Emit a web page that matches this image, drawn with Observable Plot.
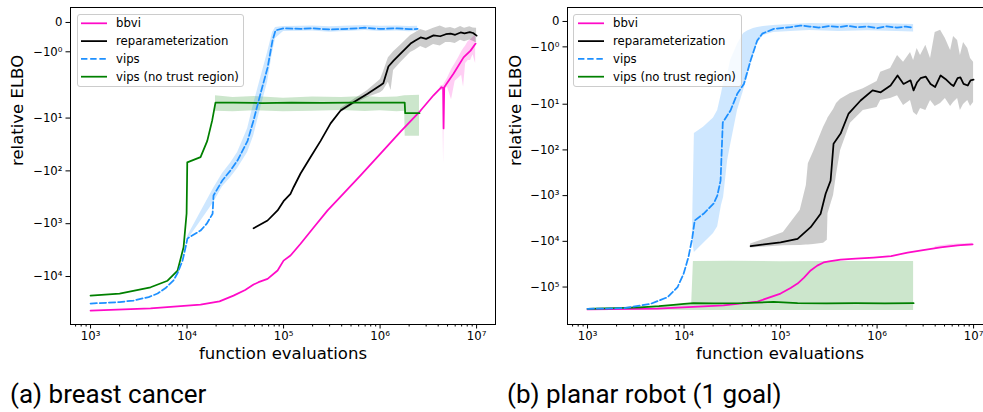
<!DOCTYPE html>
<html>
<head>
<meta charset="utf-8">
<script src="https://cdn.jsdelivr.net/npm/d3@7"></script>
<script src="https://cdn.jsdelivr.net/npm/@observablehq/plot@0.6"></script>
<style>
  html, body { margin: 0; padding: 0; background: #fff; }
  #fig { position: relative; width: 983px; height: 412px; overflow: hidden; font-family: "DejaVu Sans", sans-serif; }
  .panel { position: absolute; top: 0; }
  .panel svg { max-width: none !important; }
  .legend { position: absolute; box-sizing: border-box; height: 73px; border: 1px solid #cccccc; border-radius: 3px;
            background: rgba(255,255,255,0.8); font-size: 11.7px; color: #000; }
  .legend svg { position: absolute; left: 0; top: 0; }
  .legend span { position: absolute; height: 16px; line-height: 16px; white-space: nowrap; }
  .caption { position: absolute; top: 379px; font-family: Roboto, sans-serif; font-size: 26px; line-height: 30px;
             color: #000; white-space: nowrap; }
</style>
</head>
<body>
<div id="fig"></div>
<script>
// ---- shared axis definitions ----
const xDomain = [620, 1.57e7];
const xTickValues = [1e3, 1e4, 1e5, 1e6, 1e7];
const xTickLabels = ["10³", "10⁴", "10⁵", "10⁶", "10⁷"];
const yTickValues = [0, -1, -10, -100, -1000, -10000, -100000];
const yTickLabels = ["0", "−10⁰", "−10¹", "−10²", "−10³", "−10⁴", "−10⁵"];

const seriesNames = ["bbvi", "reparameterization", "vips", "vips (no trust region)"];
const seriesColors = ["#ff0ac8", "#000000", "#1e90ff", "#008000"];
const seriesDash = [null, null, "6.4,2.8", null];

// ---- (a) breast cancer ----
const bcDomainY = [-81000, 0.51];
const bcBbviX = [1e3, 4190, 13800, 21700, 30300, 40000, 48900, 55000, 68300, 86700, 1e5, 1.18e5, 1.5e5, 2.05e5, 2.86e5, 3.9e5, 6.28e5, 1.01e6, 1.63e6, 2.63e6, 3.58e6, 4.33e6, 4.5e6, 4.55e6, 4.62e6, 4.77e6, 5.78e6, 7.33e6, 8.66e6, 9.77e6];
const bcBbviY = [-44000, -40000, -34000, -29500, -23000, -18000, -14200, -12800, -11100, -7700, -5000, -4000, -2400, -1180, -560, -308, -122, -47, -18, -7.2, -3.7, -2.6, -2.7, -15.7, -2.6, -2.4, -1.74, -1.19, -0.96, -0.72];
const bcBbviBandX = [4.2e6, 4.45e6, 4.55e6, 4.65e6, 5e6, 5.5e6, 6e6, 6.5e6, 7e6, 7.33e6, 7.7e6, 8.2e6, 8.66e6, 9.2e6, 9.77e6];
const bcBbviLo = [-3.0, -3.0, -75, -2.9, -2.6, -4.5, -2.0, -1.9, -1.8, -2.6, -1.4, -1.3, -1.3, -1.1, -1.4];
const bcBbviHi = [-2.5, -2.4, -2.4, -2.2, -1.9, -1.6, -1.4, -1.2, -1.0, -0.9, -0.8, -0.65, -0.6, -0.5, -0.45];

const bcRepX = [48900, 68300, 86700, 1e5, 1.18e5, 1.27e5, 1.5e5, 1.9e5, 2.42e5, 3.07e5, 3.9e5, 5.31e5, 7.42e5, 1.01e6, 1.08e6, 1.22e6, 1.38e6, 1.63e6, 2.07e6, 2.3e6, 2.63e6, 3e6, 3.58e6, 4.2e6, 4.8e6, 5.38e6, 6e6, 6.83e6, 7.5e6, 8.5e6, 9.2e6, 1e7];
const bcRepY = [-1220, -870, -560, -375, -272, -204, -112, -55, -27, -12.6, -7.2, -5.0, -3.47, -2.4, -2.2, -1.5, -1.3, -1.06, -0.72, -0.62, -0.51, -0.56, -0.44, -0.47, -0.4, -0.38, -0.42, -0.34, -0.37, -0.33, -0.36, -0.45];
const bcRepBandX = [3.9e5, 5.31e5, 7.42e5, 1.01e6, 1.08e6, 1.22e6, 1.3e6, 1.38e6, 1.63e6, 2.07e6, 2.3e6, 2.63e6, 3e6, 3.58e6, 4.2e6, 4.8e6, 5.38e6, 6e6, 6.83e6, 7.5e6, 8.5e6, 9.2e6, 1e7];
const bcRepLo = [-7.9, -5.6, -4.1, -3.3, -3.0, -2.1, -3.0, -1.64, -1.37, -1.02, -0.95, -0.82, -0.9, -0.75, -0.8, -0.68, -0.68, -0.72, -0.61, -0.66, -0.6, -0.64, -0.7];
const bcRepHi = [-6.6, -4.5, -3.0, -1.94, -1.7, -1.2, -1.1, -1.0, -0.78, -0.44, -0.36, -0.24, -0.3, -0.2, -0.12, -0.2, -0.17, -0.22, -0.14, -0.2, -0.15, -0.19, -0.2];

const bcVipsX = [1000, 2000, 2790, 4000, 4950, 6000, 7250, 8000, 8980, 9650, 10100, 13800, 16000, 18400, 18800, 23300, 28200, 33400, 42400, 48900, 57800, 68300, 76900, 82600, 1e5, 1.5e5, 2e5, 3e5, 5e5, 7e5, 1e6, 1.5e6, 2e6, 2.45e6];
const bcVipsY = [-32500, -30500, -28500, -24500, -21000, -16500, -11800, -8500, -5000, -2800, -1900, -1350, -1000, -650, -293, -150, -98, -63, -27, -11, -3.4, -1.54, -0.61, -0.27, -0.2, -0.22, -0.2, -0.24, -0.21, -0.18, -0.22, -0.2, -0.23, -0.22];
const bcVipsBandX = [10100, 18800, 23300, 28200, 33400, 42400, 48900, 57800, 68300, 76900, 82600, 1e5, 1.5e5, 2e5, 3e5, 5e5, 7e5, 1e6, 1.5e6, 2e6, 2.45e6];
const bcVipsLo = [-2050, -400, -200, -135, -90, -45, -22, -6.6, -2.1, -1.02, -0.55, -0.31, -0.3, -0.29, -0.33, -0.3, -0.27, -0.31, -0.29, -0.32, -0.3];
const bcVipsHi = [-1750, -215, -112, -72, -45, -16, -5.5, -1.9, -1.02, -0.34, -0.17, -0.14, -0.13, -0.12, -0.15, -0.12, -0.1, -0.13, -0.12, -0.14, -0.13];

const bcNoTrX = [1000, 2000, 4190, 6280, 7980, 9200, 9890, 10000, 10050, 13800, 16200, 18200, 19700, 30000, 60000, 1.2e5, 2.5e5, 5e5, 1e6, 1.8e6, 1.82e6, 2.56e6];
const bcNoTrY = [-23000, -21000, -16000, -12000, -7700, -2800, -640, -150, -69, -55, -27, -11.2, -5.1, -5.1, -5.2, -5.1, -5.15, -5.1, -5.1, -5.1, -8.1, -8.1];
const bcNoTrBandX = [19700, 30000, 50000, 1e5, 2e5, 4e5, 7e5, 1e6, 1.5e6, 1.8e6, 1.82e6, 2.56e6];
const bcNoTrLo = [-7.4, -7.6, -7.3, -7.6, -7.4, -7.2, -7.5, -7.3, -7.6, -7.4, -22, -22];
const bcNoTrHi = [-3.8, -4.1, -3.9, -4.2, -4.0, -4.1, -3.9, -4.1, -4.0, -3.8, -3.8, -3.7];

// ---- (b) planar robot (1 goal) ----
const prDomainY = [-660000, 0.55];
const prBbviX = [1000, 5310, 25700, 57800, 1e5, 1.27e5, 1.5e5, 1.75e5, 2.05e5, 2.4e5, 2.79e5, 3.3e5, 4.19e5, 6e5, 9.2e5, 1.4e6, 2.07e6, 3e6, 4.55e6, 6.83e6, 8e6, 9.77e6];
const prBbviY = [-310000, -295000, -253000, -208000, -139000, -105000, -84000, -62000, -43400, -34000, -29000, -27000, -25000, -24000, -22600, -21000, -17600, -15500, -13600, -12300, -12000, -11700];
const prBbviBandX = [4e6, 6e6, 8e6, 9.77e6];
const prBbviLo = [-14600, -13300, -12800, -12400];
const prBbviHi = [-13000, -11600, -11300, -11000];

const prRepX = [48900, 1e5, 1.5e5, 2.05e5, 2.6e5, 2.93e5, 3.3e5, 3.54e5, 4.19e5, 5.07e5, 6.75e5, 8.98e5, 1.09e6, 1.38e6, 1.63e6, 1.88e6, 2.22e6, 2.39e6, 2.6e6, 2.82e6, 3.2e6, 3.58e6, 4.0e6, 4.55e6, 5.1e6, 5.78e6, 6.2e6, 6.83e6, 7.3e6, 7.87e6, 8.7e6, 9.3e6, 1e7];
const prRepY = [-12800, -10500, -8800, -4900, -2500, -910, -470, -73, -44, -16, -8.3, -5.0, -5.5, -3.9, -2.35, -3.6, -3.0, -5.0, -3.3, -2.7, -2.5, -3.6, -4.2, -2.35, -2.8, -3.6, -4.0, -2.7, -2.6, -3.6, -3.9, -3.0, -2.9];
const prRepBandX = [48900, 1.07e5, 1.6e5, 1.85e5, 1.94e5, 2.2e5, 2.79e5, 3.05e5, 3.1e5, 3.54e5, 3.8e5, 4.19e5, 5.3e5, 7.2e5, 1e6, 1.09e6, 1.38e6, 1.63e6, 1.88e6, 2.22e6, 2.39e6, 2.6e6, 2.82e6, 3.2e6, 3.58e6, 4.0e6, 4.55e6, 5.1e6, 5.78e6, 6.2e6, 6.83e6, 7.3e6, 7.87e6, 8.7e6, 9.3e6, 1e7];
const prRepLo = [-14000, -12500, -12300, -12000, -12000, -11800, -11000, -9500, -2500, -1000, -350, -103, -26, -13.7, -11.8, -8.3, -7.5, -6.5, -10.7, -8.3, -15.2, -17.6, -12.4, -13.7, -8.3, -11.2, -9.6, -7.5, -11.2, -9.2, -7.5, -13.7, -10.1, -8.3, -11.2, -9.2];
const prRepHi = [-11500, -6400, -2100, -600, -200, -110, -32, -22, -20, -13, -9.6, -7.8, -5.8, -4.6, -3.2, -2.0, -1.85, -1.34, -1.61, -1.22, -1.54, -1.06, -1.34, -0.94, -1.46, -0.43, -0.35, -0.67, -1.14, -0.59, -0.75, -1.34, -0.83, -1.06, -1.46, -1.61];

const prVipsX = [1000, 2360, 4500, 6740, 8570, 9880, 11100, 12200, 12900, 15900, 20200, 22100, 23900, 25200, 30300, 35600, 41700, 48900, 57300, 64600, 85100, 1.27e5, 1.6e5, 2e5, 2.5e5, 3.2e5, 4e5, 5e5, 6.3e5, 8e5, 1e6, 1.26e6, 1.6e6, 2e6, 2.39e6];
const prVipsY = [-300000, -290000, -233000, -167000, -100000, -51700, -22300, -8100, -3500, -2500, -1500, -1000, -470, -25, -13.7, -5.9, -3.6, -1.54, -0.75, -0.48, -0.29, -0.22, -0.16, -0.2, -0.24, -0.18, -0.22, -0.17, -0.23, -0.2, -0.26, -0.19, -0.24, -0.2, -0.25];
const prVipsBandX = [12200, 12800, 15900, 20200, 22300, 24400, 25700, 28300, 30300, 35800, 41400, 45500, 52400, 57800, 66300, 84500, 1.27e5, 2e5, 4e5, 8e5, 1.6e6, 2.39e6];
const prVipsLo = [-9500, -17600, -11200, -6700, -4800, -1650, -1080, -170, -80, -13.7, -5, -2.6, -1.3, -0.87, -0.55, -0.43, -0.4, -0.36, -0.4, -0.37, -0.4, -0.41];
const prVipsHi = [-7000, -44, -32, -20, -13.7, -6, -3.5, -2.2, -1.54, -0.9, -0.47, -0.38, -0.28, -0.24, -0.2, -0.16, -0.12, -0.08, -0.1, -0.07, -0.1, -0.12];

const prNoTrX = [1000, 2000, 3540, 5500, 7780, 10000, 12500, 20000, 40000, 84500, 1.5e5, 3e5, 6e5, 1.2e6, 2.39e6];
const prNoTrY = [-300000, -290000, -277000, -262000, -245000, -233000, -226000, -227000, -226000, -212000, -224000, -227000, -226000, -227000, -226000];
const prNoTrBandX = [1000, 5000, 12000, 12500, 30000, 1e5, 3e5, 1e6, 2.39e6];
const prNoTrLo = [-320000, -322000, -325000, -326000, -325000, -327000, -325000, -326000, -326000];
const prNoTrHi = [-295000, -265000, -236000, -27600, -27400, -27800, -27500, -27700, -27600];

// ---- symmetric log transform (linear within ±2, log beyond) ----
const linthresh = 2;
const linscaleAdj = 1 / (1 - 1 / 10);
function symlog(v) {
  const a = Math.abs(v);
  if (a <= linthresh) return (v / linthresh) * linscaleAdj;
  return Math.sign(v) * (linscaleAdj + Math.log10(a / linthresh));
}

const rows = (xs, ys) => xs.map((x, i) => ({x, y: ys[i]}));
const bandRows = (xs, lo, hi) => xs.map((x, i) => ({x, lo: lo[i], hi: hi[i]}));
const nearestLabel = (values, labels) => t => {
  let best = 0;
  values.forEach((v, i) => { if (Math.abs(v - t) < Math.abs(values[best] - t)) best = i; });
  return labels[best];
};

// log-axis minor ticks (2..9 × each decade inside the domain)
const xMinor = [];
for (let k = 2; k <= 7; k++) for (let m = 2; m <= 9; m++) {
  const v = m * 10 ** k;
  if (v >= xDomain[0] && v <= xDomain[1]) xMinor.push(v);
}

function drawPanel(cfg) {
  const yT = cfg.yTicks.map(symlog);
  const fmtY = nearestLabel(yT, cfg.yLabels);
  const fmtX = nearestLabel(xTickValues, xTickLabels);
  const axisMarks = typeof Plot.axisX === "function";

  const marks = [];
  cfg.bands.forEach(b => marks.push(
    Plot.areaY(bandRows(b.x, b.lo, b.hi), {
      x: "x", y1: d => symlog(d.lo), y2: d => symlog(d.hi), fill: b.color, fillOpacity: b.opacity ?? 0.2
    })
  ));
  cfg.lines.forEach(s => marks.push(
    Plot.line(rows(s.x, s.y), {
      x: "x", y: d => symlog(d.y), stroke: s.color, strokeWidth: 1.75, strokeDasharray: s.dash ?? undefined
    })
  ));
  marks.push(Plot.frame({stroke: "#000", strokeWidth: 1}));
  if (axisMarks) {
    marks.push(Plot.axisX(xTickValues, {tickSize: 4.5, tickPadding: 3, tickFormat: fmtX, label: null}));
    marks.push(Plot.axisX(xMinor, {tickSize: 2.5, tickFormat: () => "", label: null}));
    marks.push(Plot.axisY(yT, {tickSize: 4.5, tickPadding: 3.5, tickFormat: fmtY, label: null}));
  }
  marks.push(Plot.text(["relative ELBO"], {
    text: d => d, frameAnchor: "left", dx: cfg.yLabelDx, rotate: -90, fontSize: 16.5
  }));
  marks.push(Plot.text(["function evaluations"], {
    text: d => d, frameAnchor: "bottom", dy: 34, fontSize: 16.5
  }));

  const svg = Plot.plot({
    width: cfg.width,
    height: 372,
    marginLeft: cfg.marginLeft,
    marginRight: cfg.width - cfg.marginLeft - 425,
    marginTop: 7,
    marginBottom: 48,
    style: {fontFamily: "DejaVu Sans, sans-serif", fontSize: "11.7px", background: "transparent", color: "#000", maxWidth: "none"},
    x: Object.assign({type: "log", domain: xDomain},
      axisMarks ? {} : {ticks: xTickValues, tickFormat: fmtX, tickSize: 4.5, tickPadding: 3, label: null}),
    y: Object.assign({type: "linear", domain: cfg.domainY.map(symlog)},
      axisMarks ? {} : {ticks: yT, tickFormat: fmtY, tickSize: 4.5, tickPadding: 3.5, label: null}),
    marks
  });
  svg.style.maxWidth = "none";
  svg.style.width = cfg.width + "px";
  svg.style.height = "372px";
  const holder = document.createElement("div");
  holder.className = "panel";
  holder.style.left = cfg.left + "px";
  holder.style.width = cfg.width + "px";
  holder.appendChild(svg);
  document.getElementById("fig").appendChild(holder);
}

function addLegend(left, width, swX, textX) {
  const box = document.createElement("div");
  box.className = "legend";
  box.style.left = left + "px";
  box.style.top = "14px";
  box.style.width = width + "px";
  const ns = "http://www.w3.org/2000/svg";
  const sw = document.createElementNS(ns, "svg");
  sw.setAttribute("width", width);
  sw.setAttribute("height", 73);
  seriesNames.forEach((name, i) => {
    const cy = 8.3 + i * 17.8;
    const ln = document.createElementNS(ns, "line");
    ln.setAttribute("x1", swX); ln.setAttribute("x2", swX + 26);
    ln.setAttribute("y1", cy); ln.setAttribute("y2", cy);
    ln.setAttribute("stroke", seriesColors[i]);
    ln.setAttribute("stroke-width", 1.75);
    if (seriesDash[i]) ln.setAttribute("stroke-dasharray", seriesDash[i]);
    sw.appendChild(ln);
    const sp = document.createElement("span");
    sp.textContent = name;
    sp.style.left = textX + "px";
    sp.style.top = (cy - 8) + "px";
    box.appendChild(sp);
  });
  box.appendChild(sw);
  document.getElementById("fig").appendChild(box);
}

function addCaption(left, text) {
  const c = document.createElement("div");
  c.className = "caption";
  c.style.left = left + "px";
  c.textContent = text;
  document.getElementById("fig").appendChild(c);
}

const [cBbvi, cRep, cVips, cNoTr] = seriesColors;

drawPanel({
  left: 0, width: 500, marginLeft: 70, yLabelDx: -53, domainY: bcDomainY,
  yTicks: yTickValues.slice(0, 6), yLabels: yTickLabels.slice(0, 6),
  bands: [
    {x: bcBbviBandX, lo: bcBbviLo, hi: bcBbviHi, color: cBbvi},
    {x: bcRepBandX, lo: bcRepLo, hi: bcRepHi, color: cRep},
    {x: bcNoTrBandX, lo: bcNoTrLo, hi: bcNoTrHi, color: cNoTr},
    {x: bcVipsBandX, lo: bcVipsLo, hi: bcVipsHi, color: cVips, opacity: 0.22}
  ],
  lines: [
    {x: bcBbviX, y: bcBbviY, color: cBbvi},
    {x: bcRepX, y: bcRepY, color: cRep},
    {x: bcNoTrX, y: bcNoTrY, color: cNoTr},
    {x: bcVipsX, y: bcVipsY, color: cVips, dash: seriesDash[2]}
  ]
});

drawPanel({
  left: 490, width: 507, marginLeft: 77, yLabelDx: -52, domainY: prDomainY,
  yTicks: yTickValues, yLabels: yTickLabels,
  bands: [
    {x: prBbviBandX, lo: prBbviLo, hi: prBbviHi, color: cBbvi},
    {x: prNoTrBandX, lo: prNoTrLo, hi: prNoTrHi, color: cNoTr},
    {x: prRepBandX, lo: prRepLo, hi: prRepHi, color: cRep},
    {x: prVipsBandX, lo: prVipsLo, hi: prVipsHi, color: cVips, opacity: 0.22}
  ],
  lines: [
    {x: prBbviX, y: prBbviY, color: cBbvi},
    {x: prRepX, y: prRepY, color: cRep},
    {x: prNoTrX, y: prNoTrY, color: cNoTr},
    {x: prVipsX, y: prVipsY, color: cVips, dash: seriesDash[2]}
  ]
});

addLegend(77, 167, 3, 38);
addLegend(573, 169, 4, 39);
addCaption(10, "(a) breast cancer");
addCaption(507, "(b) planar robot (1 goal)");
</script>
</body>
</html>
